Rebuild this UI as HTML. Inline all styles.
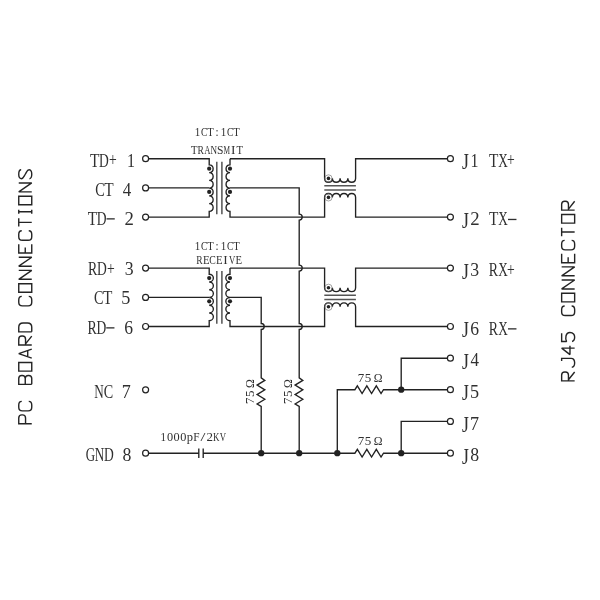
<!DOCTYPE html>
<html><head><meta charset="utf-8"><title>Schematic</title>
<style>html,body{margin:0;padding:0;background:#fff;}svg{display:block;}text{font-family:"Liberation Serif",serif;}</style></head>
<body>
<svg width="600" height="600" viewBox="0 0 600 600">
<rect width="600" height="600" fill="#fff"/>
<g fill="none" stroke="#222222" stroke-width="1.35" stroke-linejoin="miter">
<path d="M148.6,158.7 L209.2,158.7 L209.2,164.79999999999998 A4.15,3.88 0 0 1 209.2,172.55 A4.15,3.88 0 0 1 209.2,180.30 A4.15,3.88 0 0 1 209.2,188.05 A4.15,3.88 0 0 1 209.2,195.80 A4.15,3.88 0 0 1 209.2,203.55 A4.15,3.88 0 0 1 209.2,211.30 L209.2,217.1 L148.6,217.1"/>
<path d="M148.6,187.9 L209.2,187.9"/>
<path d="M230.0,158.7 L324.6,158.7 L324.6,178.39999999999998 A3.88,4.07 0 0 0 332.35,178.39999999999998 A3.88,4.07 0 0 0 340.10,178.39999999999998 A3.88,4.07 0 0 0 347.85,178.39999999999998 A3.88,4.07 0 0 0 355.60,178.39999999999998 L355.6,158.7 L447.4,158.7"/>
<path d="M230.0,158.7 L230.0,164.79999999999998 A4.15,3.88 0 0 0 230.0,172.55 A4.15,3.88 0 0 0 230.0,180.30 A4.15,3.88 0 0 0 230.0,188.05 A4.15,3.88 0 0 0 230.0,195.80 A4.15,3.88 0 0 0 230.0,203.55 A4.15,3.88 0 0 0 230.0,211.30 L230.0,217.1 L324.6,217.1 L324.6,197.4 A3.88,4.07 0 0 1 332.35,197.4 A3.88,4.07 0 0 1 340.10,197.4 A3.88,4.07 0 0 1 347.85,197.4 A3.88,4.07 0 0 1 355.60,197.4 L355.6,217.1 L447.4,217.1"/>
<path d="M230.0,187.9 L299.2,187.9 L299.2,214.1 A3,3 0 0 1 299.2,220.1 L299.2,265.1 A3,3 0 0 1 299.2,271.1 L299.2,323.5 A3,3 0 0 1 299.2,329.5 L299.2,377.9 L302.8,380.40 L295.09999999999997,385.12 L302.8,389.84 L295.09999999999997,394.56 L302.8,399.28 L295.09999999999997,404.00 L299.2,406.5 L299.2,453.2"/>
<path d="M148.6,268.1 L209.2,268.1 L209.2,274.20000000000005 A4.15,3.87 0 0 1 209.2,281.95 A4.15,3.87 0 0 1 209.2,289.70 A4.15,3.87 0 0 1 209.2,297.45 A4.15,3.87 0 0 1 209.2,305.20 A4.15,3.87 0 0 1 209.2,312.95 A4.15,3.87 0 0 1 209.2,320.70 L209.2,326.5 L148.6,326.5"/>
<path d="M148.6,297.4 L209.2,297.4"/>
<path d="M230.0,268.1 L324.6,268.1 L324.6,287.8 A3.88,4.07 0 0 0 332.35,287.8 A3.88,4.07 0 0 0 340.10,287.8 A3.88,4.07 0 0 0 347.85,287.8 A3.88,4.07 0 0 0 355.60,287.8 L355.6,268.1 L447.4,268.1"/>
<path d="M230.0,268.1 L230.0,274.20000000000005 A4.15,3.87 0 0 0 230.0,281.95 A4.15,3.87 0 0 0 230.0,289.70 A4.15,3.87 0 0 0 230.0,297.45 A4.15,3.87 0 0 0 230.0,305.20 A4.15,3.87 0 0 0 230.0,312.95 A4.15,3.87 0 0 0 230.0,320.70 L230.0,326.5 L324.6,326.5 L324.6,306.8 A3.88,4.07 0 0 1 332.35,306.8 A3.88,4.07 0 0 1 340.10,306.8 A3.88,4.07 0 0 1 347.85,306.8 A3.88,4.07 0 0 1 355.60,306.8 L355.6,326.5 L447.4,326.5"/>
<path d="M230.0,297.4 L261.2,297.4 L261.2,323.5 A3,3 0 0 1 261.2,329.5 L261.2,377.9 L264.8,380.40 L257.09999999999997,385.12 L264.8,389.84 L257.09999999999997,394.56 L264.8,399.28 L257.09999999999997,404.00 L261.2,406.5 L261.2,453.2"/>
<path d="M148.6,453.2 L198.8,453.2 M198.8,448.5 L198.8,457.9 M203.2,448.5 L203.2,457.9 M203.2,453.2 L337.3,453.2 L354.9,453.2 L357.35,449.34999999999997 L362.09,457.05 L366.83,449.34999999999997 L371.57,457.05 L376.31,449.34999999999997 L381.05,457.05 L383.5,453.2 L447.4,453.2"/>
<path d="M337.3,453.2 L337.3,389.7 L354.9,389.7 L357.35,385.84999999999997 L362.09,393.55 L366.83,385.84999999999997 L371.57,393.55 L376.31,385.84999999999997 L381.05,393.55 L383.5,389.7 L447.4,389.7"/>
<path d="M401.2,389.7 L401.2,358.2 L447.4,358.2"/>
<path d="M401.2,453.2 L401.2,421.4 L447.4,421.4"/>
</g>
<path d="M216.8,161.7 L216.8,214.29999999999998 M221.9,161.7 L221.9,214.29999999999998" stroke="#4d4d4d" stroke-width="1.45" fill="none"/>
<path d="M324.3,185.79999999999998 L355.90000000000003,185.79999999999998 M324.3,189.99999999999997 L355.90000000000003,189.99999999999997" stroke="#555" stroke-width="1.5" fill="none"/>
<path d="M216.8,271.1 L216.8,323.7 M221.9,271.1 L221.9,323.7" stroke="#4d4d4d" stroke-width="1.45" fill="none"/>
<path d="M324.3,295.2 L355.90000000000003,295.2 M324.3,299.40000000000003 L355.90000000000003,299.40000000000003" stroke="#555" stroke-width="1.5" fill="none"/>
<g fill="#fff" stroke="#222222" stroke-width="1.2">
<circle cx="145.6" cy="158.7" r="3.0"/>
<circle cx="145.6" cy="187.9" r="3.0"/>
<circle cx="145.6" cy="217.1" r="3.0"/>
<circle cx="145.6" cy="268.1" r="3.0"/>
<circle cx="145.6" cy="297.4" r="3.0"/>
<circle cx="145.6" cy="326.5" r="3.0"/>
<circle cx="145.6" cy="389.8" r="3.0"/>
<circle cx="145.6" cy="453.2" r="3.0"/>
<circle cx="450.4" cy="158.7" r="3.0"/>
<circle cx="450.4" cy="217.1" r="3.0"/>
<circle cx="450.4" cy="268.1" r="3.0"/>
<circle cx="450.4" cy="326.5" r="3.0"/>
<circle cx="450.4" cy="358.2" r="3.0"/>
<circle cx="450.4" cy="389.7" r="3.0"/>
<circle cx="450.4" cy="421.4" r="3.0"/>
<circle cx="450.4" cy="453.2" r="3.0"/>
</g>
<g fill="none" stroke="#7a7a7a" stroke-width="0.7">
<circle cx="328.48" cy="178.40" r="3.6"/>
<circle cx="328.48" cy="197.40" r="3.6"/>
<circle cx="328.48" cy="287.80" r="3.6"/>
<circle cx="328.48" cy="306.80" r="3.6"/>
</g>
<g fill="#222222">
<circle cx="209.20" cy="168.67" r="2.1"/>
<circle cx="209.20" cy="191.92" r="2.1"/>
<circle cx="230.00" cy="168.67" r="2.1"/>
<circle cx="230.00" cy="191.92" r="2.1"/>
<circle cx="328.48" cy="178.40" r="1.8"/>
<circle cx="328.48" cy="197.40" r="1.8"/>
<circle cx="209.20" cy="278.08" r="2.1"/>
<circle cx="209.20" cy="301.32" r="2.1"/>
<circle cx="230.00" cy="278.08" r="2.1"/>
<circle cx="230.00" cy="301.32" r="2.1"/>
<circle cx="328.48" cy="287.80" r="1.8"/>
<circle cx="328.48" cy="306.80" r="1.8"/>
<circle cx="261.20" cy="453.20" r="3.15"/>
<circle cx="299.20" cy="453.20" r="3.15"/>
<circle cx="337.30" cy="453.20" r="3.15"/>
<circle cx="401.20" cy="453.20" r="3.15"/>
<circle cx="401.20" cy="389.70" r="3.15"/>
</g>
<g fill="none" stroke="#242424" stroke-width="1.4" stroke-linejoin="miter" stroke-miterlimit="1.6" stroke-linecap="butt"><path d="M0,0 L0,13.0 L5.800000000000001,13.0 Q8.9,13.0 8.9,9.9 L8.9,9.299999999999999 Q8.9,6.2 5.800000000000001,6.2 L0,6.2" transform="matrix(0,-1,-1,0,31.75,423.75)"/><path d="M9.5,10.0 Q9.5,13.0 5.9,13.0 L3.6,13.0 Q0,13.0 0,9.4 L0,3.6 Q0,0 3.6,0 L5.9,0 Q9.5,0 9.5,3.0" transform="matrix(0,-1,-1,0,31.75,410.92)"/><path d="M0,0 L0,13.0 L5.800000000000001,13.0 Q8.9,13.0 8.9,9.9 L8.9,9.6 Q8.9,6.5 5.800000000000001,6.5 L0,6.5 M5.800000000000001,6.5 Q8.9,6.5 8.9,3.4 L8.9,3.1 Q8.9,0 5.800000000000001,0 L0,0" transform="matrix(0,-1,-1,0,31.75,384.36)"/><path d="M0,0 L0,13.0 L8.6,13.0 L8.6,0 Z" transform="matrix(0,-1,-1,0,31.75,371.08)"/><path d="M0,0 L4.45,13.0 L8.9,0 M1.4240000000000002,4.03 L7.476,4.03" transform="matrix(0,-1,-1,0,31.75,358.10)"/><path d="M0,0 L0,13.0 L5.800000000000001,13.0 Q8.9,13.0 8.9,9.9 L8.9,9.299999999999999 Q8.9,6.2 5.800000000000001,6.2 L0,6.2 M1.068,6.2 L8.9,0" transform="matrix(0,-1,-1,0,31.75,344.97)"/><path d="M0,0 L0,13.0 L4.6000000000000005,13.0 Q8.9,13.0 8.9,8.7 L8.9,4.3 Q8.9,0 4.6000000000000005,0 L0,0" transform="matrix(0,-1,-1,0,31.75,331.84)"/><path d="M9.5,10.0 Q9.5,13.0 5.9,13.0 L3.6,13.0 Q0,13.0 0,9.4 L0,3.6 Q0,0 3.6,0 L5.9,0 Q9.5,0 9.5,3.0" transform="matrix(0,-1,-1,0,31.75,305.88)"/><path d="M0,0 L0,13.0 L8.6,13.0 L8.6,0 Z" transform="matrix(0,-1,-1,0,31.75,292.30)"/><path d="M0,0 L0,13.0 L8.9,0 L8.9,13.0" transform="matrix(0,-1,-1,0,31.75,279.32)"/><path d="M0,0 L0,13.0 L8.9,0 L8.9,13.0" transform="matrix(0,-1,-1,0,31.75,266.19)"/><path d="M8.9,13.0 L0,13.0 L0,0 L8.9,0 M0,6.5 L5.518,6.5" transform="matrix(0,-1,-1,0,31.75,253.06)"/><path d="M9.5,10.0 Q9.5,13.0 5.9,13.0 L3.6,13.0 Q0,13.0 0,9.4 L0,3.6 Q0,0 3.6,0 L5.9,0 Q9.5,0 9.5,3.0" transform="matrix(0,-1,-1,0,31.75,240.23)"/><path d="M0,13.0 L8.4,13.0 M4.2,13.0 L4.2,0" transform="matrix(0,-1,-1,0,31.75,226.55)"/><path d="M0,13.0 L3.9,13.0 M1.95,13.0 L1.95,0 M0,0 L3.9,0" transform="matrix(0,-1,-1,0,31.75,213.67)"/><path d="M0,0 L0,13.0 L8.6,13.0 L8.6,0 Z" transform="matrix(0,-1,-1,0,31.75,204.82)"/><path d="M0,0 L0,13.0 L8.9,0 L8.9,13.0" transform="matrix(0,-1,-1,0,31.75,191.84)"/><path d="M8.9,10.6 C8.9,12.4 6.675000000000001,13.0 4.45,13.0 C2.225,13.0 0,12.5 0,10.4 C0,8.4 1.9580000000000002,8.0 4.45,6.5 S8.9,4.6 8.9,2.6 C8.9,0.5 6.675000000000001,0 4.45,0 C2.225,0 0,0.6 0,2.3" transform="matrix(0,-1,-1,0,31.75,178.71)"/></g>
<g fill="none" stroke="#242424" stroke-width="1.4" stroke-linejoin="miter" stroke-miterlimit="1.6" stroke-linecap="butt"><path d="M0,0 L0,13.0 L5.800000000000001,13.0 Q8.9,13.0 8.9,9.9 L8.9,9.299999999999999 Q8.9,6.2 5.800000000000001,6.2 L0,6.2 M1.068,6.2 L8.9,0" transform="matrix(0,-1,-1,0,574.65,380.85)"/><path d="M6.300000000000001,13.0 L8.9,13.0 L8.9,3.5100000000000002 C8.9,0.9100000000000001 6.675000000000001,0 4.45,0 C2.225,0 0,0.78 0,2.86" transform="matrix(0,-1,-1,0,574.65,367.32)"/><path d="M6.497,0 L6.497,13.0 L0,4.68 L8.9,4.68" transform="matrix(0,-1,-1,0,574.65,354.59)"/><path d="M8.188,13.0 L0,13.0 L0,8.06 C2.67,9.49 8.9,9.36 8.9,4.68 C8.9,1.3 6.408,0 4.45,0 C2.225,0 0.35600000000000004,0.9100000000000001 0,2.6" transform="matrix(0,-1,-1,0,574.65,341.46)"/><path d="M9.5,10.0 Q9.5,13.0 5.9,13.0 L3.6,13.0 Q0,13.0 0,9.4 L0,3.6 Q0,0 3.6,0 L5.9,0 Q9.5,0 9.5,3.0" transform="matrix(0,-1,-1,0,574.65,315.50)"/><path d="M0,0 L0,13.0 L8.6,13.0 L8.6,0 Z" transform="matrix(0,-1,-1,0,574.65,301.92)"/><path d="M0,0 L0,13.0 L8.9,0 L8.9,13.0" transform="matrix(0,-1,-1,0,574.65,288.94)"/><path d="M0,0 L0,13.0 L8.9,0 L8.9,13.0" transform="matrix(0,-1,-1,0,574.65,275.81)"/><path d="M8.9,13.0 L0,13.0 L0,0 L8.9,0 M0,6.5 L5.518,6.5" transform="matrix(0,-1,-1,0,574.65,262.68)"/><path d="M9.5,10.0 Q9.5,13.0 5.9,13.0 L3.6,13.0 Q0,13.0 0,9.4 L0,3.6 Q0,0 3.6,0 L5.9,0 Q9.5,0 9.5,3.0" transform="matrix(0,-1,-1,0,574.65,249.85)"/><path d="M0,13.0 L8.4,13.0 M4.2,13.0 L4.2,0" transform="matrix(0,-1,-1,0,574.65,236.17)"/><path d="M0,0 L0,13.0 L8.6,13.0 L8.6,0 Z" transform="matrix(0,-1,-1,0,574.65,223.14)"/><path d="M0,0 L0,13.0 L5.800000000000001,13.0 Q8.9,13.0 8.9,9.9 L8.9,9.299999999999999 Q8.9,6.2 5.800000000000001,6.2 L0,6.2 M1.068,6.2 L8.9,0" transform="matrix(0,-1,-1,0,574.65,210.16)"/></g>
<g font-family="Liberation Serif, serif" fill="#303030" style="opacity:0.999">
<text transform="translate(89.96,166.70) scale(0.816,1.000)" font-size="18.8">T</text><text transform="translate(98.97,166.70) scale(0.719,1.000)" font-size="18.8">D</text><text transform="translate(109.02,166.04) scale(0.731,1.000)" font-size="18.8">+</text><text transform="translate(126.91,166.70) scale(0.852,1.000)" font-size="18.8">1</text>
<text transform="translate(95.14,196.30) scale(0.753,1.000)" font-size="18.8">C</text><text transform="translate(104.18,196.30) scale(0.816,1.000)" font-size="18.8">T</text><text transform="translate(122.84,196.30) scale(0.904,1.000)" font-size="18.8">4</text>
<text transform="translate(87.86,224.70) scale(0.816,1.000)" font-size="18.8">T</text><text transform="translate(96.87,224.70) scale(0.719,1.000)" font-size="18.8">D</text><rect x="106.54" y="218.21" width="8.21" height="1.32"/><text transform="translate(124.46,224.70) scale(0.998,1.000)" font-size="18.8">2</text>
<text transform="translate(87.94,275.40) scale(0.738,1.000)" font-size="18.8">R</text><text transform="translate(97.07,275.40) scale(0.719,1.000)" font-size="18.8">D</text><text transform="translate(107.12,274.74) scale(0.731,1.000)" font-size="18.8">+</text><text transform="translate(124.72,275.40) scale(0.944,1.000)" font-size="18.8">3</text>
<text transform="translate(94.04,304.40) scale(0.753,1.000)" font-size="18.8">C</text><text transform="translate(103.08,304.40) scale(0.816,1.000)" font-size="18.8">T</text><text transform="translate(121.30,304.40) scale(0.968,1.000)" font-size="18.8">5</text>
<text transform="translate(87.44,333.70) scale(0.738,1.000)" font-size="18.8">R</text><text transform="translate(96.57,333.70) scale(0.719,1.000)" font-size="18.8">D</text><rect x="106.24" y="327.21" width="8.21" height="1.32"/><text transform="translate(124.22,333.70) scale(0.936,1.000)" font-size="18.8">6</text>
<text transform="translate(94.36,398.20) scale(0.701,1.000)" font-size="18.8">N</text><text transform="translate(103.66,398.20) scale(0.753,1.000)" font-size="18.8">C</text><text transform="translate(121.66,398.20) scale(0.962,1.000)" font-size="18.8">7</text>
<text transform="translate(85.70,461.20) scale(0.692,1.000)" font-size="18.8">G</text><text transform="translate(94.78,461.20) scale(0.701,1.000)" font-size="18.8">N</text><text transform="translate(103.89,461.20) scale(0.719,1.000)" font-size="18.8">D</text><text transform="translate(122.50,461.20) scale(0.944,1.000)" font-size="18.8">8</text>
<text transform="translate(461.92,169.16) scale(0.951,1.180)" font-size="18.8">J</text><text transform="translate(470.57,166.90) scale(0.852,1.000)" font-size="18.8">1</text><text transform="translate(488.90,166.90) scale(0.816,1.000)" font-size="18.8">T</text><text transform="translate(498.20,166.90) scale(0.704,1.000)" font-size="18.8">X</text><text transform="translate(506.92,166.24) scale(0.731,1.000)" font-size="18.8">+</text>
<text transform="translate(461.92,227.56) scale(0.951,1.180)" font-size="18.8">J</text><text transform="translate(470.22,225.30) scale(0.998,1.000)" font-size="18.8">2</text><text transform="translate(488.90,225.30) scale(0.816,1.000)" font-size="18.8">T</text><text transform="translate(498.20,225.30) scale(0.704,1.000)" font-size="18.8">X</text><rect x="508.00" y="218.81" width="8.46" height="1.32"/>
<text transform="translate(461.92,278.56) scale(0.951,1.180)" font-size="18.8">J</text><text transform="translate(470.28,276.30) scale(0.944,1.000)" font-size="18.8">3</text><text transform="translate(488.78,276.30) scale(0.738,1.000)" font-size="18.8">R</text><text transform="translate(498.20,276.30) scale(0.704,1.000)" font-size="18.8">X</text><text transform="translate(506.92,275.64) scale(0.731,1.000)" font-size="18.8">+</text>
<text transform="translate(461.92,336.96) scale(0.951,1.180)" font-size="18.8">J</text><text transform="translate(470.28,334.70) scale(0.936,1.000)" font-size="18.8">6</text><text transform="translate(488.78,334.70) scale(0.738,1.000)" font-size="18.8">R</text><text transform="translate(498.20,334.70) scale(0.704,1.000)" font-size="18.8">X</text><rect x="508.00" y="328.21" width="8.46" height="1.32"/>
<text transform="translate(461.92,368.66) scale(0.951,1.180)" font-size="18.8">J</text><text transform="translate(470.52,366.40) scale(0.904,1.000)" font-size="18.8">4</text>
<text transform="translate(461.92,400.16) scale(0.951,1.180)" font-size="18.8">J</text><text transform="translate(470.08,397.90) scale(0.968,1.000)" font-size="18.8">5</text>
<text transform="translate(461.92,431.86) scale(0.951,1.180)" font-size="18.8">J</text><text transform="translate(469.94,429.60) scale(0.962,1.000)" font-size="18.8">7</text>
<text transform="translate(461.92,463.66) scale(0.951,1.180)" font-size="18.8">J</text><text transform="translate(470.36,461.40) scale(0.944,1.000)" font-size="18.8">8</text>
<text transform="translate(194.68,135.80) scale(0.852,1.030)" font-size="13.0">1</text><text transform="translate(200.90,135.80) scale(0.753,1.030)" font-size="13.0">C</text><text transform="translate(207.35,135.80) scale(0.816,1.030)" font-size="13.0">T</text><text transform="translate(215.58,135.80) scale(0.850,1.030)" font-size="13.0">:</text><text transform="translate(220.68,135.80) scale(0.852,1.030)" font-size="13.0">1</text><text transform="translate(226.90,135.80) scale(0.753,1.030)" font-size="13.0">C</text><text transform="translate(233.35,135.80) scale(0.816,1.030)" font-size="13.0">T</text>
<text transform="translate(191.10,154.10) scale(0.816,1.030)" font-size="13.0">T</text><text transform="translate(197.52,154.10) scale(0.738,1.030)" font-size="13.0">R</text><text transform="translate(204.21,154.10) scale(0.667,1.030)" font-size="13.0">A</text><text transform="translate(210.53,154.10) scale(0.701,1.030)" font-size="13.0">N</text><text transform="translate(217.11,154.10) scale(0.889,1.030)" font-size="13.0">S</text><text transform="translate(223.58,154.10) scale(0.566,1.030)" font-size="13.0">M</text><text transform="translate(231.11,154.10) scale(1.032,1.030)" font-size="13.0">I</text><text transform="translate(236.60,154.10) scale(0.816,1.030)" font-size="13.0">T</text>
<text transform="translate(194.68,249.90) scale(0.852,1.030)" font-size="13.0">1</text><text transform="translate(200.90,249.90) scale(0.753,1.030)" font-size="13.0">C</text><text transform="translate(207.35,249.90) scale(0.816,1.030)" font-size="13.0">T</text><text transform="translate(215.58,249.90) scale(0.850,1.030)" font-size="13.0">:</text><text transform="translate(220.68,249.90) scale(0.852,1.030)" font-size="13.0">1</text><text transform="translate(226.90,249.90) scale(0.753,1.030)" font-size="13.0">C</text><text transform="translate(233.35,249.90) scale(0.816,1.030)" font-size="13.0">T</text>
<text transform="translate(196.22,263.60) scale(0.738,1.030)" font-size="13.0">R</text><text transform="translate(202.88,263.60) scale(0.827,1.030)" font-size="13.0">E</text><text transform="translate(209.35,263.60) scale(0.753,1.030)" font-size="13.0">C</text><text transform="translate(215.88,263.60) scale(0.827,1.030)" font-size="13.0">E</text><text transform="translate(223.31,263.60) scale(1.032,1.030)" font-size="13.0">I</text><text transform="translate(228.90,263.60) scale(0.672,1.030)" font-size="13.0">V</text><text transform="translate(235.38,263.60) scale(0.827,1.030)" font-size="13.0">E</text>
<text transform="translate(160.48,441.00) scale(0.852,1.030)" font-size="13.0">1</text><text transform="translate(166.93,441.00) scale(0.944,1.030)" font-size="13.0">0</text><text transform="translate(173.53,441.00) scale(0.944,1.030)" font-size="13.0">0</text><text transform="translate(180.13,441.00) scale(0.944,1.030)" font-size="13.0">0</text><text transform="translate(186.80,441.00) scale(0.967,1.030)" font-size="13.0">p</text><text transform="translate(193.28,441.00) scale(0.875,1.030)" font-size="13.0">F</text><text transform="translate(200.53,441.00) scale(1.368,1.030)" font-size="13.0">/</text><text transform="translate(206.43,441.00) scale(0.998,1.030)" font-size="13.0">2</text><text transform="translate(212.89,441.00) scale(0.688,1.030)" font-size="13.0">K</text><text transform="translate(219.65,441.00) scale(0.672,1.030)" font-size="13.0">V</text>
<text transform="translate(357.79,381.80) scale(0.962,1.000)" font-size="13.5">7</text><text transform="translate(364.63,381.80) scale(0.968,1.000)" font-size="13.5">5</text><text transform="translate(373.76,381.8) scale(0.875,0.98)" font-size="13.5">Ω</text>
<text transform="translate(357.79,444.80) scale(0.962,1.000)" font-size="13.5">7</text><text transform="translate(364.63,444.80) scale(0.968,1.000)" font-size="13.5">5</text><text transform="translate(373.76,444.8) scale(0.875,0.98)" font-size="13.5">Ω</text>
<g transform="translate(253.7,403.8) rotate(-90)"><text transform="translate(-0.11,0.00) scale(0.962,1.000)" font-size="13.5">7</text><text transform="translate(6.73,0.00) scale(0.968,1.000)" font-size="13.5">5</text><text transform="translate(15.86,0) scale(0.875,0.98)" font-size="13.5">Ω</text></g>
<g transform="translate(291.9,403.8) rotate(-90)"><text transform="translate(-0.11,0.00) scale(0.962,1.000)" font-size="13.5">7</text><text transform="translate(6.73,0.00) scale(0.968,1.000)" font-size="13.5">5</text><text transform="translate(15.86,0) scale(0.875,0.98)" font-size="13.5">Ω</text></g>
</g>
</svg>
</body></html>
